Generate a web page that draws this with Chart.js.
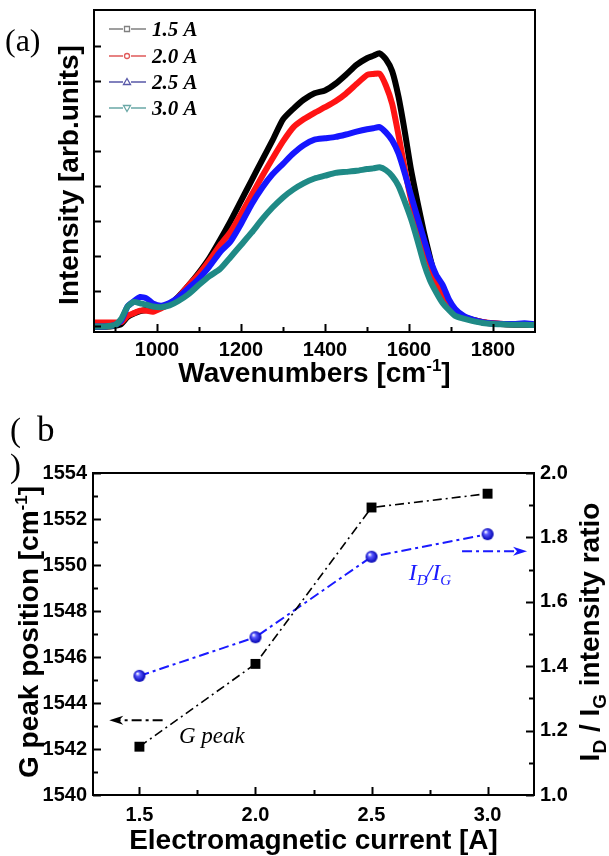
<!DOCTYPE html>
<html>
<head>
<meta charset="utf-8">
<script src="https://cdn.jsdelivr.net/npm/chart.js@4.4.1/dist/chart.umd.min.js"></script>
<style>
  html, body { margin: 0; padding: 0; background: #fff; }
  #wrap { position: relative; width: 609px; height: 856px; overflow: hidden; }
  .box { position: absolute; left: 0; width: 609px; }
  #boxA { top: 0; height: 400px; }
  #boxB { top: 400px; height: 456px; }
  .tag { position: absolute; font-family: "Liberation Serif", serif; color: #000; line-height: 1; }
</style>
</head>
<body>
<div id="wrap">
  <div class="box" id="boxA"><canvas id="chartA" width="609" height="400"></canvas></div>
  <div class="box" id="boxB"><canvas id="chartB" width="609" height="456"></canvas></div>
  <div class="tag" style="left:5px;top:24px;font-size:32px;">(a)</div>
  <div class="tag" style="left:10px;top:414px;font-size:33px;">(</div>
  <div class="tag" style="left:37px;top:412px;font-size:35px;">b</div>
  <div class="tag" style="left:10px;top:450px;font-size:33px;">)</div>
</div>
<script>
// ===============================
// DATA (a) : Raman spectra
// ===============================
const wavenumbers = [850, 875, 900, 915, 930, 945, 960, 975, 990, 1010, 1030, 1050, 1075, 1100, 1125, 1150, 1175, 1200, 1225, 1250, 1275, 1300, 1325, 1350, 1375, 1400, 1425, 1450, 1475, 1500, 1515, 1530, 1545, 1560, 1575, 1590, 1605, 1620, 1635, 1650, 1665, 1680, 1695, 1710, 1730, 1750, 1775, 1800, 1825, 1850, 1875, 1900];
const spec15 = [-0.03, -0.03, 0.0, 0.05, 0.25, 0.35, 0.42, 0.45, 0.45, 0.52, 0.62, 0.82, 1.15, 1.52, 1.94, 2.45, 2.99, 3.57, 4.15, 4.73, 5.30, 5.90, 6.21, 6.47, 6.65, 6.73, 6.92, 7.18, 7.46, 7.65, 7.72, 7.79, 7.62, 7.28, 6.55, 5.55, 4.45, 3.55, 2.70, 1.95, 1.25, 0.85, 0.55, 0.40, 0.25, 0.17, 0.10, 0.06, 0.04, 0.03, 0.03, 0.02];
const spec20 = [0.09, 0.09, 0.09, 0.10, 0.28, 0.36, 0.43, 0.43, 0.40, 0.50, 0.62, 0.80, 1.15, 1.48, 1.87, 2.30, 2.68, 3.19, 3.73, 4.27, 4.78, 5.27, 5.68, 5.91, 6.09, 6.25, 6.42, 6.64, 6.91, 7.17, 7.20, 7.21, 6.87, 6.34, 5.45, 4.48, 3.60, 2.87, 2.28, 1.75, 1.22, 0.82, 0.55, 0.38, 0.25, 0.17, 0.11, 0.07, 0.05, 0.04, 0.04, 0.03];
const spec25 = [-0.02, -0.02, 0.02, 0.15, 0.55, 0.70, 0.82, 0.78, 0.64, 0.57, 0.65, 0.80, 1.07, 1.35, 1.70, 2.10, 2.41, 2.91, 3.47, 3.94, 4.33, 4.63, 4.93, 5.17, 5.32, 5.36, 5.40, 5.47, 5.55, 5.62, 5.65, 5.68, 5.53, 5.30, 4.93, 4.36, 3.72, 3.10, 2.50, 1.90, 1.45, 1.17, 0.75, 0.48, 0.28, 0.18, 0.10, 0.06, 0.05, 0.05, 0.07, 0.04];
const spec30 = [-0.02, -0.02, 0.02, 0.20, 0.55, 0.68, 0.64, 0.60, 0.55, 0.53, 0.58, 0.70, 0.90, 1.17, 1.42, 1.62, 1.96, 2.31, 2.66, 3.04, 3.38, 3.67, 3.90, 4.08, 4.21, 4.29, 4.37, 4.40, 4.43, 4.48, 4.50, 4.53, 4.45, 4.28, 4.00, 3.55, 3.05, 2.45, 1.80, 1.30, 0.95, 0.65, 0.45, 0.28, 0.20, 0.14, 0.08, 0.05, 0.04, 0.03, 0.03, 0.02];
const seriesNames = ["1.5 A", "2.0 A", "2.5 A", "3.0 A"];
const xTicksA = [900, 1000, 1100, 1200, 1300, 1400, 1500, 1600, 1700, 1800];
const yTicksA = [0, 1, 2, 3, 4, 5, 6, 7, 8];

// ===============================
// DATA (b) : G peak & ID/IG
// ===============================
const currents = [1.5, 2.0, 2.5, 3.0];
const gPeak = [1542.1, 1545.7, 1552.5, 1553.1];
const idigRatio = [1.37, 1.49, 1.74, 1.81];
const xTicksB = [1.5, 2.0, 2.5, 3.0];
const xMinorB = [1.75, 2.25, 2.75];
const gTicks = [1540, 1542, 1544, 1546, 1548, 1550, 1552, 1554];
const gMinor = [1541, 1543, 1545, 1547, 1549, 1551, 1553];
const rTicks = [1.0, 1.2, 1.4, 1.6, 1.8, 2.0];
const rMinor = [1.1, 1.3, 1.5, 1.7, 1.9];

const SANS = '"Liberation Sans", Arial, sans-serif';
const SERIF = '"Liberation Serif", "Times New Roman", serif';

// ===============================
// helpers
// ===============================
function drawRich(ctx, parts, x, y, rot) {
  ctx.save();
  ctx.translate(x, y);
  ctx.rotate(rot || 0);
  let w = 0;
  parts.forEach(p => { ctx.font = p.font; p.w = ctx.measureText(p.t).width; w += p.w; });
  let cx = -w / 2;
  ctx.textAlign = "left";
  ctx.textBaseline = "alphabetic";
  parts.forEach(p => {
    ctx.font = p.font;
    ctx.fillStyle = p.color || "#000";
    ctx.fillText(p.t, cx, p.dy || 0);
    cx += p.w;
  });
  ctx.restore();
}

function drawMarker(ctx, kind, x, y, r) {
  ctx.beginPath();
  if (kind === "square") ctx.rect(x - r, y - r, 2 * r, 2 * r);
  else if (kind === "circle") ctx.arc(x, y, r, 0, Math.PI * 2);
  else if (kind === "up") { ctx.moveTo(x, y - r - 1); ctx.lineTo(x + r + 1, y + r); ctx.lineTo(x - r - 1, y + r); ctx.closePath(); }
  else { ctx.moveTo(x, y + r + 1); ctx.lineTo(x + r + 1, y - r); ctx.lineTo(x - r - 1, y - r); ctx.closePath(); }
  ctx.fillStyle = "#fff";
  ctx.fill();
  ctx.stroke();
}

function arrow(ctx, x1, y1, x2, y2, color) {
  const dir = Math.sign(x2 - x1);
  ctx.save();
  ctx.strokeStyle = color; ctx.fillStyle = color; ctx.lineWidth = 2;
  ctx.setLineDash([10, 4, 3, 4]);
  ctx.beginPath(); ctx.moveTo(x1, y1); ctx.lineTo(x2 - dir * 8, y2); ctx.stroke();
  ctx.setLineDash([]);
  ctx.beginPath();
  ctx.moveTo(x2, y2); ctx.lineTo(x2 - dir * 14, y2 - 4.5); ctx.lineTo(x2 - dir * 10, y2); ctx.lineTo(x2 - dir * 14, y2 + 4.5);
  ctx.closePath(); ctx.fill();
  ctx.restore();
}

function makeBall(r) {
  const c = document.createElement("canvas");
  c.width = c.height = 2 * r + 2;
  const g = c.getContext("2d");
  const grad = g.createRadialGradient(r + 1 - r * 0.35, r + 1 - r * 0.4, r * 0.1, r + 1, r + 1, r);
  grad.addColorStop(0, "#f0f0ff");
  grad.addColorStop(0.3, "#5a5aff");
  grad.addColorStop(1, "#0000b0");
  g.fillStyle = grad;
  g.beginPath(); g.arc(r + 1, r + 1, r, 0, Math.PI * 2); g.fill();
  return c;
}

// frame + inward ticks
const framePlugin = {
  id: "frame",
  afterDatasetsDraw(chart, args, opts) {
    const { ctx, chartArea: a } = chart;
    ctx.save();
    ctx.strokeStyle = "#000";
    ctx.lineWidth = 2;
    ctx.strokeRect(a.left, a.top, a.right - a.left, a.bottom - a.top);
    (opts.marks || []).forEach(m => {
      const s = chart.scales[m.axis];
      m.values.forEach(v => {
        const p = Math.round(s.getPixelForValue(v)) + 0.5;
        ctx.beginPath();
        if (m.axis === "x") { ctx.moveTo(p, a.bottom); ctx.lineTo(p, a.bottom - m.len); }
        else if (s.position === "left") { ctx.moveTo(a.left, p); ctx.lineTo(a.left + m.len, p); }
        else { ctx.moveTo(a.right, p); ctx.lineTo(a.right - m.len, p); }
        ctx.stroke();
      });
    });
    ctx.restore();
  }
};

const tickFont = { family: SANS, size: 20, weight: "bold" };
const titleFont = "bold 28px " + SANS;
const supFont = "bold 17px " + SANS;

// ===============================
// CHART (a)
// ===============================
const colorsA = ["#000000", "#ff1414", "#1616ff", "#1f8a86"];
const legendColors = ["#808080", "#e05a5a", "#5858a8", "#6aa8a6"];
const legendMarks = ["square", "circle", "up", "down"];
const specs = [spec15, spec20, spec25, spec30];

const legendPlugin = {
  id: "specLegend",
  afterDraw(chart) {
    const ctx = chart.ctx;
    const rows = [29, 56, 82, 108];
    ctx.save();
    seriesNames.forEach((name, i) => {
      const y = rows[i];
      ctx.strokeStyle = legendColors[i];
      ctx.lineWidth = 1.3;
      ctx.beginPath(); ctx.moveTo(109, y); ctx.lineTo(123, y); ctx.moveTo(131, y); ctx.lineTo(146, y); ctx.stroke();
      drawMarker(ctx, legendMarks[i], 127, y, 2.5);
      ctx.font = "italic bold 21px " + SERIF;
      ctx.fillStyle = "#000";
      ctx.textBaseline = "alphabetic";
      ctx.fillText(name, 152, y + 7);
    });
    ctx.restore();
  }
};

const titlesA = {
  id: "titlesA",
  afterDraw(chart) {
    const ctx = chart.ctx, a = chart.chartArea;
    drawRich(ctx, [
      { t: "Wavenumbers [cm", font: titleFont },
      { t: "-1", font: supFont, dy: -11 },
      { t: "]", font: titleFont }
    ], (a.left + a.right) / 2, a.bottom + 50, 0);
    drawRich(ctx, [{ t: "Intensity [arb.units]", font: titleFont }], a.left - 16, (a.top + a.bottom) / 2 + 4, -Math.PI / 2);
  }
};

new Chart(document.getElementById("chartA"), {
  type: "line",
  data: {
    datasets: specs.map((s, i) => ({
      label: seriesNames[i],
      data: wavenumbers.map((w, k) => ({ x: w, y: s[k] })),
      borderColor: colorsA[i],
      borderWidth: 6,
      pointRadius: 0,
      tension: 0.2,
      order: 3 - i
    }))
  },
  options: {
    responsive: false,
    animation: false,
    events: [],
    layout: { padding: { top: 10, right: 74, bottom: 0, left: 0 } },
    plugins: {
      legend: { display: false },
      tooltip: { enabled: false },
      frame: {
        marks: [
          { axis: "x", values: xTicksA.filter(v => v % 200 === 0), len: 8 },
          { axis: "x", values: xTicksA.filter(v => v % 200 !== 0), len: 5 },
          { axis: "y", values: yTicksA, len: 7 }
        ]
      }
    },
    scales: {
      x: {
        type: "linear", min: 850, max: 1900,
        grid: { display: false, drawTicks: false }, border: { display: false },
        ticks: {
          autoSkip: false, maxRotation: 0, padding: 6, color: "#000", font: tickFont,
          callback: v => (v % 200 === 0 ? String(v) : "")
        },
        afterBuildTicks: s => { s.ticks = xTicksA.map(v => ({ value: v })); },
        afterFit: s => { s.height = 68; }
      },
      y: {
        type: "linear", min: -0.18, max: 9.03,
        grid: { display: false, drawTicks: false }, border: { display: false },
        ticks: { display: false },
        afterBuildTicks: s => { s.ticks = yTicksA.map(v => ({ value: v })); },
        afterFit: s => { s.width = 94; }
      }
    }
  },
  plugins: [framePlugin, legendPlugin, titlesA]
});

// ===============================
// CHART (b)
// ===============================
const ball = makeBall(6);

const notesB = {
  id: "notesB",
  afterDraw(chart) {
    const ctx = chart.ctx, a = chart.chartArea;
    const sx = chart.scales.x, sy = chart.scales.y, sr = chart.scales.y1;
    // axis titles
    drawRich(ctx, [{ t: "Electromagnetic current [A]", font: titleFont }], (a.left + a.right) / 2, a.bottom + 54, 0);
    drawRich(ctx, [
      { t: "G peak position [cm", font: titleFont },
      { t: "-1", font: supFont, dy: -11 },
      { t: "]", font: titleFont }
    ], 38, (a.top + a.bottom) / 2 - 2, -Math.PI / 2);
    drawRich(ctx, [
      { t: "I", font: titleFont },
      { t: "D", font: "bold 19px " + SANS, dy: 7 },
      { t: " / I", font: titleFont },
      { t: "G", font: "bold 19px " + SANS, dy: 7 },
      { t: " intensity ratio", font: titleFont }
    ], 599, (a.top + a.bottom) / 2 - 2, -Math.PI / 2);
    // arrows
    arrow(ctx, sx.getPixelForValue(1.6), sy.getPixelForValue(1543.25), sx.getPixelForValue(1.37), sy.getPixelForValue(1543.25), "#000");
    arrow(ctx, sx.getPixelForValue(2.89), sr.getPixelForValue(1.757), sx.getPixelForValue(3.17), sr.getPixelForValue(1.757), "#1a1aff");
    // notes
    ctx.save();
    ctx.textAlign = "left"; ctx.textBaseline = "alphabetic";
    ctx.font = "italic 23px " + SERIF;
    ctx.fillStyle = "#000";
    ctx.fillText("G peak", sx.getPixelForValue(1.67), sy.getPixelForValue(1542.25));
    const nx = sx.getPixelForValue(2.66), ny = sr.getPixelForValue(1.668);
    const big = "italic 24px " + SERIF, small = "italic 15px " + SERIF;
    let cx = nx;
    [["I", big, 0], ["D", small, 5], ["/", big, 0], ["I", big, 0], ["G", small, 5]].forEach(([t, f, dy]) => {
      ctx.font = f; ctx.fillStyle = "#1a1aff";
      ctx.fillText(t, cx, ny + dy);
      cx += ctx.measureText(t).width - (t === "D" ? 2 : 0);
    });
    ctx.restore();
  }
};

new Chart(document.getElementById("chartB"), {
  type: "line",
  data: {
    datasets: [
      {
        label: "G peak",
        data: currents.map((c, i) => ({ x: c, y: gPeak[i] })),
        yAxisID: "y",
        borderColor: "#000", backgroundColor: "#000",
        borderWidth: 1.6, borderDash: [9, 4, 2, 4],
        pointStyle: "rect", pointRadius: 7, pointBorderWidth: 0
      },
      {
        label: "ID/IG",
        data: currents.map((c, i) => ({ x: c, y: idigRatio[i] })),
        yAxisID: "y1",
        borderColor: "#1a1aff",
        borderWidth: 2, borderDash: [10, 4, 3, 4],
        pointStyle: ball, pointRadius: 6
      }
    ]
  },
  options: {
    responsive: false,
    animation: false,
    events: [],
    layout: { padding: { top: 73, right: 0, bottom: 0, left: 0 } },
    plugins: {
      legend: { display: false },
      tooltip: { enabled: false },
      frame: {
        marks: [
          { axis: "x", values: xTicksB, len: 8 },
          { axis: "x", values: xMinorB, len: 5 },
          { axis: "y", values: gTicks, len: 8 },
          { axis: "y", values: gMinor, len: 5 },
          { axis: "y1", values: rTicks, len: 8 },
          { axis: "y1", values: rMinor, len: 5 }
        ]
      }
    },
    scales: {
      x: {
        type: "linear", min: 1.3, max: 3.2,
        grid: { display: false, drawTicks: false }, border: { display: false },
        ticks: { autoSkip: false, maxRotation: 0, padding: 8, color: "#000", font: tickFont, callback: v => v.toFixed(1) },
        afterBuildTicks: s => { s.ticks = xTicksB.map(v => ({ value: v })); },
        afterFit: s => { s.height = 61; }
      },
      y: {
        type: "linear", position: "left", min: 1540, max: 1554,
        grid: { display: false, drawTicks: false }, border: { display: false },
        ticks: { padding: 6, color: "#000", font: tickFont, callback: v => String(v) },
        afterBuildTicks: s => { s.ticks = gTicks.map(v => ({ value: v })); },
        afterFit: s => { s.width = 93; }
      },
      y1: {
        type: "linear", position: "right", min: 1.0, max: 2.0,
        grid: { display: false, drawTicks: false }, border: { display: false },
        ticks: { padding: 6, color: "#000", font: tickFont, callback: v => v.toFixed(1) },
        afterBuildTicks: s => { s.ticks = rTicks.map(v => ({ value: v })); },
        afterFit: s => { s.width = 75; }
      }
    }
  },
  plugins: [framePlugin, notesB]
});
</script>
</body>
</html>
